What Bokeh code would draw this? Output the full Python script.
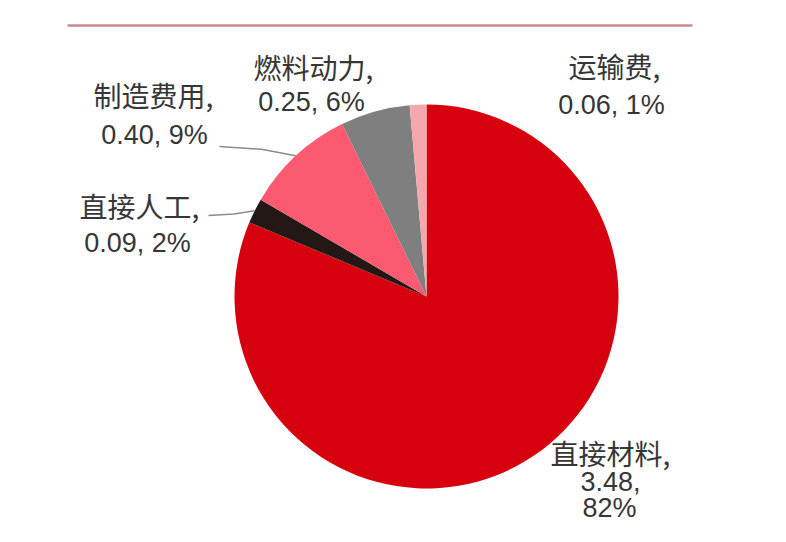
import numpy as np
from bokeh.plotting import figure
from bokeh.models import Range1d, ColumnDataSource
from bokeh.core.properties import value
from bokeh.embed import file_html
from bokeh.resources import INLINE

# ---- data ----
categories = ["直接材料", "直接人工", "制造费用", "燃料动力", "运输费"]
values = [3.48, 0.09, 0.40, 0.25, 0.06]
pct_labels = ["82%", "2%", "9%", "6%", "1%"]
colors = ["#d7000f", "#231816", "#fb5a70", "#7f7f7f", "#f5a7ae"]

# ---- layout (picture pixel coords; y = 542 - py) ----
W, H = 770, 526
CX, CY, R = 426, 296, 192

def Y(py):
    return 542 - py

p = figure(width=W, height=H, output_backend="svg", toolbar_location=None,
           x_range=Range1d(0, 770), y_range=Range1d(16, 542), min_border=0)
p.axis.visible = False
p.grid.visible = False
p.outline_line_color = None
p.background_fill_color = "white"
p.border_fill_color = "white"

# top decorative rule
p.segment(x0=[67], y0=[Y(25)], x1=[692], y1=[Y(25)], line_color="#c98a8e", line_width=2.5)

# slices clockwise from 12 o'clock
vals = np.array(values, dtype=float)
frac = vals / vals.sum()
cum = np.concatenate([[0], np.cumsum(frac)])
start = np.pi / 2 - 2 * np.pi * cum[:-1]
end = np.pi / 2 - 2 * np.pi * cum[1:]
src = ColumnDataSource(dict(start=start, end=end, color=colors))
p.wedge(x=CX, y=Y(CY), radius=R, start_angle="start", end_angle="end",
        direction="clock", fill_color="color", line_color=None, source=src)

# label placements (line centres in picture pixels)
label_pos = {
    "直接材料": [(610, 452), (610, 481), (609, 507)],
    "直接人工": [(139, 205), (137, 242)],
    "制造费用": [(153, 94), (154, 134)],
    "燃料动力": [(313, 66), (311, 101)],
    "运输费": [(614, 65), (611, 104)],
}
leader_start = {"直接人工": (208, 215), "制造费用": (219, 146)}

txt_color = "#363636"
for i, name in enumerate(categories):
    pos = label_pos[name]
    v = f"{values[i]:.2f}"
    if len(pos) == 3:
        lines = [name + ",", v + ",", pct_labels[i]]
    else:
        lines = [name + ",", v + ", " + pct_labels[i]]
    for j, (lx, ly) in enumerate(pos):
        if j == 0:
            font, fs = "Noto Sans CJK SC", "28px"
        else:
            font, fs = "Liberation Sans", "27px"
        p.text(x=[lx], y=[Y(ly)], text=[lines[j]], text_font=value(font),
               text_font_size=fs, text_color=txt_color,
               text_align="center", text_baseline="middle")
    if name in leader_start:
        mid = (start[i] + end[i]) / 2
        ex = CX + R * np.cos(mid)
        ey = CY - R * np.sin(mid)
        sx, sy = leader_start[name]
        mx = sx + 0.55 * (ex - sx)
        my = sy + 0.3 * (ey - sy)
        p.line(x=[sx, mx, ex], y=[Y(sy), Y(my), Y(ey)], line_color="#8c8c8c", line_width=1.5)

open("out.html", "w").write(file_html(p, INLINE))
